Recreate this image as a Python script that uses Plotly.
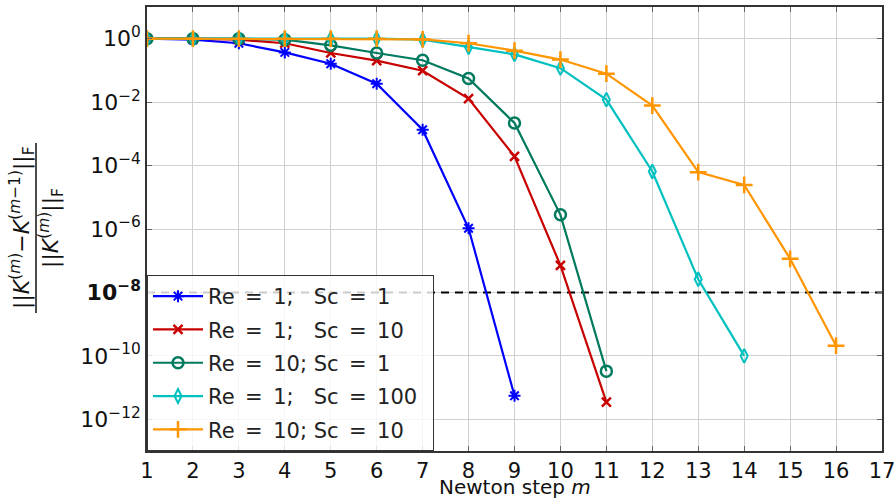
import plotly.graph_objects as go

# ---- data (relative update norm per Newton step) ----
steps_blue = [1, 2, 3, 4, 5, 6, 7, 8, 9]
vals_blue = [1.0, 0.93, 0.72, 0.37, 0.162, 0.038, 1.35e-3, 1.05e-6, 5.5e-12]

steps_red = [1, 2, 3, 4, 5, 6, 7, 8, 9, 10, 11]
vals_red = [1.0, 1.0, 0.93, 0.72, 0.355, 0.204, 0.098, 0.0129, 1.95e-4, 7.1e-8, 3.5e-12]

steps_green = [1, 2, 3, 4, 5, 6, 7, 8, 9, 10, 11]
vals_green = [1.0, 1.0, 1.0, 0.93, 0.62, 0.355, 0.209, 0.056, 2.2e-3, 2.8e-6, 3.3e-11]

steps_cyan = [1, 2, 3, 4, 5, 6, 7, 8, 9, 10, 11, 12, 13, 14]
vals_cyan = [1.0, 1.0, 1.0, 1.0, 1.0, 1.0, 0.93, 0.54, 0.32, 0.118, 0.012, 6.5e-5, 2.6e-8, 1.0e-10]

steps_orange = [1, 2, 3, 4, 5, 6, 7, 8, 9, 10, 11, 12, 13, 14, 15, 16]
vals_orange = [1.0, 1.0, 1.0, 1.0, 1.0, 1.0, 0.95, 0.72, 0.42, 0.22, 0.079, 7.8e-3, 6.2e-5, 2.45e-5, 1.15e-7, 2.1e-10]

EQ = "\u2002=\u2002"
labels = [
    "Re" + EQ + "1;\u2007 Sc" + EQ + "1",
    "Re" + EQ + "1;\u2007 Sc" + EQ + "10",
    "Re" + EQ + "10; Sc" + EQ + "1",
    "Re" + EQ + "1;\u2007 Sc" + EQ + "100\u2002",
    "Re" + EQ + "10; Sc" + EQ + "10",
]

threshold = 1e-8
x_ticks = list(range(1, 18))
y_tick_exps = [0, -2, -4, -6, -8, -10, -12]

series = [
    (steps_blue, vals_blue, labels[0], "#0000ff", "asterisk-open", 10, 2),
    (steps_red, vals_red, labels[1], "#c80000", "x-thin-open", 9, 2.5),
    (steps_green, vals_green, labels[2], "#007a5e", "circle-open", 11, 2.5),
    (steps_cyan, vals_cyan, labels[3], "#00c0c0", "diamond-tall-open", 10, 2),
    (steps_orange, vals_orange, labels[4], "#ff9500", "cross-thin-open", 12, 2.5),
]

fig = go.Figure()

fig.add_trace(go.Scatter(
    x=[x_ticks[0], x_ticks[-1]], y=[threshold, threshold], mode="lines",
    line=dict(color="black", width=2, dash="8px,6px"), showlegend=False, hoverinfo="skip"))

for xs, ys, name, color, sym, size, lw in series:
    fig.add_trace(go.Scatter(
        x=xs, y=ys, name=name, legendgroup=name, mode="lines+markers",
        line=dict(color=color, width=2.2),
        marker=dict(symbol=sym, size=size, color=color, line=dict(color=color, width=lw)),
    ))

tick_text = []
for e in y_tick_exps:
    s = "10<sup>%s</sup>" % (str(e).replace("-", "\u2212"))
    if e == -8:
        s = "<b>" + s + "</b>"
    tick_text.append(s)

font_family = "DejaVu Sans"

fig.update_layout(
    width=895, height=498,
    margin=dict(l=147, r=13, t=7, b=47, autoexpand=False),
    plot_bgcolor="white", paper_bgcolor="white",
    font=dict(family=font_family, size=20, color="#111111"),
    showlegend=True,
    legend=dict(x=0, y=0, xanchor="left", yanchor="bottom",
                bgcolor="rgba(255,255,255,0.8)", bordercolor="#333333", borderwidth=1,
                font=dict(size=21, family=font_family, color="#222222"),
                itemwidth=50, tracegroupgap=3),
    xaxis=dict(range=[1, 17], tickvals=x_ticks, ticktext=[str(v) for v in x_ticks],
               showgrid=True, gridcolor="#d0d0d0", gridwidth=1.2, automargin=False,
               showline=True, linecolor="#333333", linewidth=1.5, mirror="ticks",
               ticks="inside", ticklen=5, tickcolor="#666666", zeroline=False,
               ticklabeloverflow="allow", tickfont=dict(size=21)),
    yaxis=dict(type="log", range=[-13, 1], tickvals=[10.0 ** e for e in y_tick_exps],
               ticktext=tick_text, automargin=False,
               showgrid=True, gridcolor="#d0d0d0", gridwidth=1.2,
               showline=True, linecolor="#333333", linewidth=1.5, mirror="ticks",
               ticks="inside", ticklen=5, tickcolor="#666666", zeroline=False,
               ticklabeloverflow="allow", tickfont=dict(size=22)),
)

# y-axis title as a rotated fraction
def px_to_paper_x(px):
    return (px - 147) / 735.0

def py_to_paper_y(py):
    return (451 - py) / 444.0

fig.add_annotation(
    text="||<i>K</i><sup>(<i>m</i>)</sup>\u2212<i>K</i><sup>(<i>m</i>\u22121)</sup>||<sub>F</sub>",
    xref="paper", yref="paper", x=px_to_paper_x(22), y=py_to_paper_y(228),
    xanchor="center", yanchor="middle", textangle=-90, showarrow=False,
    font=dict(size=22, family=font_family, color="#111111"))
fig.add_annotation(
    text="||<i>K</i><sup>(<i>m</i>)</sup>||<sub>F</sub>",
    xref="paper", yref="paper", x=px_to_paper_x(51), y=py_to_paper_y(228),
    xanchor="center", yanchor="middle", textangle=-90, showarrow=False,
    font=dict(size=22, family=font_family, color="#111111"))
fig.add_shape(type="line", xref="paper", yref="paper",
              x0=px_to_paper_x(36), x1=px_to_paper_x(36),
              y0=py_to_paper_y(143), y1=py_to_paper_y(313),
              line=dict(color="#111111", width=1.5))

fig.add_annotation(
    text="Newton step <i>m</i>", xref="paper", yref="paper",
    x=0.5, y=py_to_paper_y(487), xanchor="center", yanchor="middle",
    showarrow=False, font=dict(size=20, family=font_family, color="#111111"))

fig.write_html("out.html", config={"displayModeBar": False},
               post_script="document.body.style.margin='0';document.body.style.padding='0';"
                           "document.body.style.overflow='hidden';")
